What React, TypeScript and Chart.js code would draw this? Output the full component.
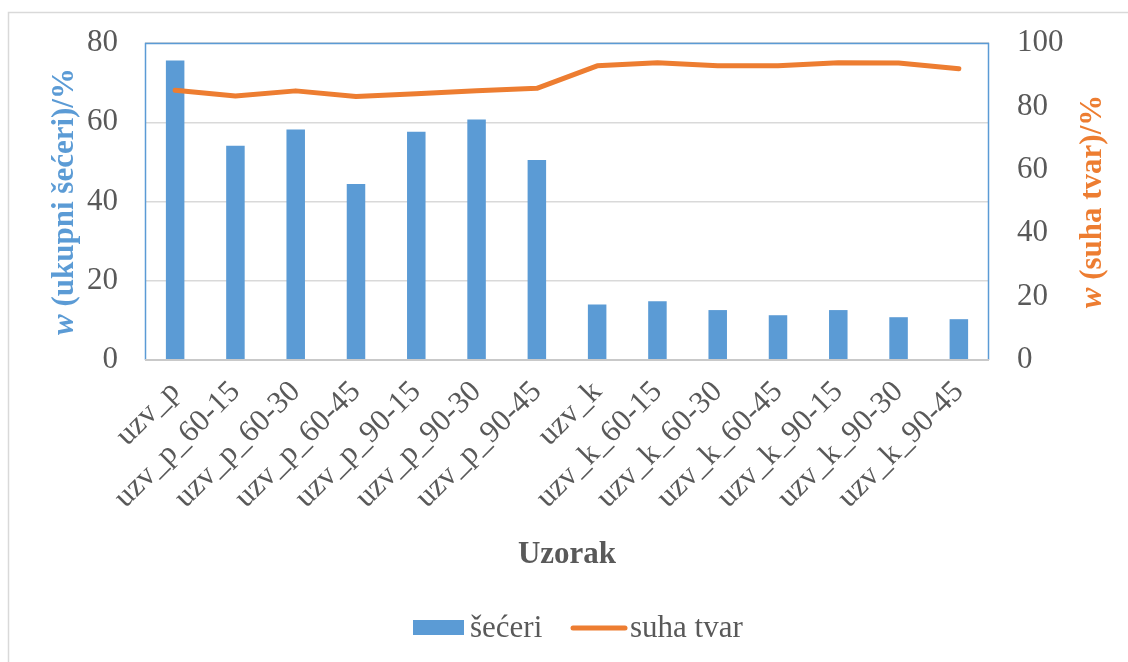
import React, { useEffect, useRef } from 'react';
import { Chart, registerables } from 'chart.js';

Chart.register(...registerables);

const categories = [
  'uzv_p', 'uzv_p_60-15', 'uzv_p_60-30', 'uzv_p_60-45', 'uzv_p_90-15', 'uzv_p_90-30', 'uzv_p_90-45',
  'uzv_k', 'uzv_k_60-15', 'uzv_k_60-30', 'uzv_k_60-45', 'uzv_k_90-15', 'uzv_k_90-30', 'uzv_k_90-45',
];
const sugarValues = [75.6, 54.1, 58.2, 44.4, 57.6, 60.7, 50.5, 14.0, 14.8, 12.6, 11.3, 12.6, 10.8, 10.3];
const dryMatterValues = [85.1, 83.3, 84.9, 83.1, 84.0, 84.9, 85.7, 92.8, 93.8, 92.8, 92.8, 93.8, 93.7, 91.9];
const sugarLabel = 'šećeri';
const dryMatterLabel = 'suha tvar';
const leftTitle = ['w', ' (ukupni šećeri)/%'];
const rightTitle = ['w', ' (suha tvar)/%'];
const xTitle = 'Uzorak';

const BLUE = '#5b9bd5';
const ORANGE = '#ed7d31';
const TEXT = '#595959';
const GRID = '#d9d9d9';
const FONT = '"Liberation Serif", "Times New Roman", serif';

function drawMixedTitle(ctx: CanvasRenderingContext2D, parts: string[], cx: number, cy: number, color: string) {
  ctx.save();
  ctx.translate(cx, cy);
  ctx.rotate(-Math.PI / 2);
  ctx.fillStyle = color;
  ctx.textBaseline = 'middle';
  ctx.textAlign = 'left';
  const f1 = `italic bold 31px ${FONT}`;
  const f2 = `bold 31px ${FONT}`;
  ctx.font = f1;
  const w1 = ctx.measureText(parts[0]).width;
  ctx.font = f2;
  const w2 = ctx.measureText(parts[1]).width;
  const start = -(w1 + w2) / 2;
  ctx.font = f1;
  ctx.fillText(parts[0], start, 0);
  ctx.font = f2;
  ctx.fillText(parts[1], start + w1, 0);
  ctx.restore();
}

const decorPlugin = {
  id: 'decor',
  beforeDraw(chart: any) {
    const ctx = chart.ctx as CanvasRenderingContext2D;
    ctx.save();
    ctx.fillStyle = '#ffffff';
    ctx.fillRect(0, 0, chart.width, chart.height);
    ctx.strokeStyle = GRID;
    ctx.lineWidth = 1.5;
    ctx.strokeRect(8.5, 12.5, 1300, 800);
    ctx.restore();
  },
  afterDraw(chart: any) {
    const ctx = chart.ctx as CanvasRenderingContext2D;
    const a = chart.chartArea;
    ctx.save();
    ctx.strokeStyle = BLUE;
    ctx.lineWidth = 1.5;
    ctx.beginPath();
    ctx.moveTo(a.left + 0.5, a.bottom);
    ctx.lineTo(a.left + 0.5, a.top + 0.5);
    ctx.lineTo(a.right - 0.5, a.top + 0.5);
    ctx.lineTo(a.right - 0.5, a.bottom);
    ctx.stroke();
    ctx.strokeStyle = '#c9c9c9';
    ctx.lineWidth = 2;
    ctx.beginPath();
    ctx.moveTo(a.left, a.bottom);
    ctx.lineTo(a.right, a.bottom);
    ctx.stroke();

    const cy = (a.top + a.bottom) / 2;
    drawMixedTitle(ctx, leftTitle, 65, cy, BLUE);
    drawMixedTitle(ctx, rightTitle, 1093, cy, ORANGE);

    ctx.fillStyle = TEXT;
    ctx.font = `bold 31px ${FONT}`;
    ctx.textAlign = 'center';
    ctx.textBaseline = 'alphabetic';
    ctx.fillText(xTitle, (a.left + a.right) / 2, 563);

    ctx.font = `31px ${FONT}`;
    ctx.textAlign = 'left';
    ctx.fillStyle = BLUE;
    ctx.fillRect(413, 620, 51, 15);
    ctx.fillStyle = TEXT;
    ctx.fillText(sugarLabel, 470, 637);
    ctx.strokeStyle = ORANGE;
    ctx.lineWidth = 5;
    ctx.lineCap = 'round';
    ctx.beginPath();
    ctx.moveTo(573, 628);
    ctx.lineTo(625, 628);
    ctx.stroke();
    ctx.fillStyle = TEXT;
    ctx.fillText(dryMatterLabel, 630, 637);
    ctx.restore();
  },
};

export default function App() {
  const ref = useRef<HTMLCanvasElement | null>(null);
  useEffect(() => {
    if (!ref.current) return;
    const chart = new Chart(ref.current, {
      type: 'bar',
      data: {
        labels: categories,
        datasets: [
          {
            type: 'bar',
            label: sugarLabel,
            data: sugarValues,
            backgroundColor: BLUE,
            barPercentage: 0.307,
            categoryPercentage: 1,
            yAxisID: 'y',
            order: 1,
          } as any,
          {
            type: 'line',
            label: dryMatterLabel,
            data: dryMatterValues,
            borderColor: ORANGE,
            backgroundColor: ORANGE,
            borderWidth: 5,
            pointRadius: 0,
            tension: 0,
            borderCapStyle: 'round',
            borderJoinStyle: 'round',
            yAxisID: 'y1',
            order: 0,
          } as any,
        ],
      },
      options: {
        responsive: false,
        animation: false,
        layout: { padding: { top: 43, left: 0, right: 0, bottom: 0 } },
        plugins: { legend: { display: false }, tooltip: { enabled: false } },
        scales: {
          x: {
            grid: { display: false, drawTicks: false },
            border: { display: false },
            ticks: {
              autoSkip: false,
              minRotation: 45,
              maxRotation: 45,
              padding: 14,
              color: TEXT,
              font: { family: FONT, size: 31 },
            },
            afterFit: (s: any) => { s.height = 302; },
          },
          y: {
            position: 'left',
            min: 0,
            max: 80,
            ticks: { stepSize: 20, padding: 27, color: TEXT, font: { family: FONT, size: 31 } },
            grid: { color: GRID, lineWidth: 1.5, drawTicks: false },
            border: { display: false },
            afterFit: (s: any) => { s.width = 145; s.paddingTop = 0; s.paddingBottom = 0; },
          },
          y1: {
            position: 'right',
            min: 0,
            max: 100,
            ticks: { stepSize: 20, padding: 28, color: TEXT, font: { family: FONT, size: 31 } },
            grid: { drawOnChartArea: false, drawTicks: false },
            border: { display: false },
            afterFit: (s: any) => { s.width = 139; s.paddingTop = 0; s.paddingBottom = 0; },
          },
        },
      },
      plugins: [decorPlugin],
    });
    return () => chart.destroy();
  }, []);
  return (
    <div style={{ position: 'absolute', left: 0, top: 0, width: 1128, height: 662 }}>
      <canvas ref={ref} width={1128} height={662} style={{ display: 'block' }} />
    </div>
  );
}
